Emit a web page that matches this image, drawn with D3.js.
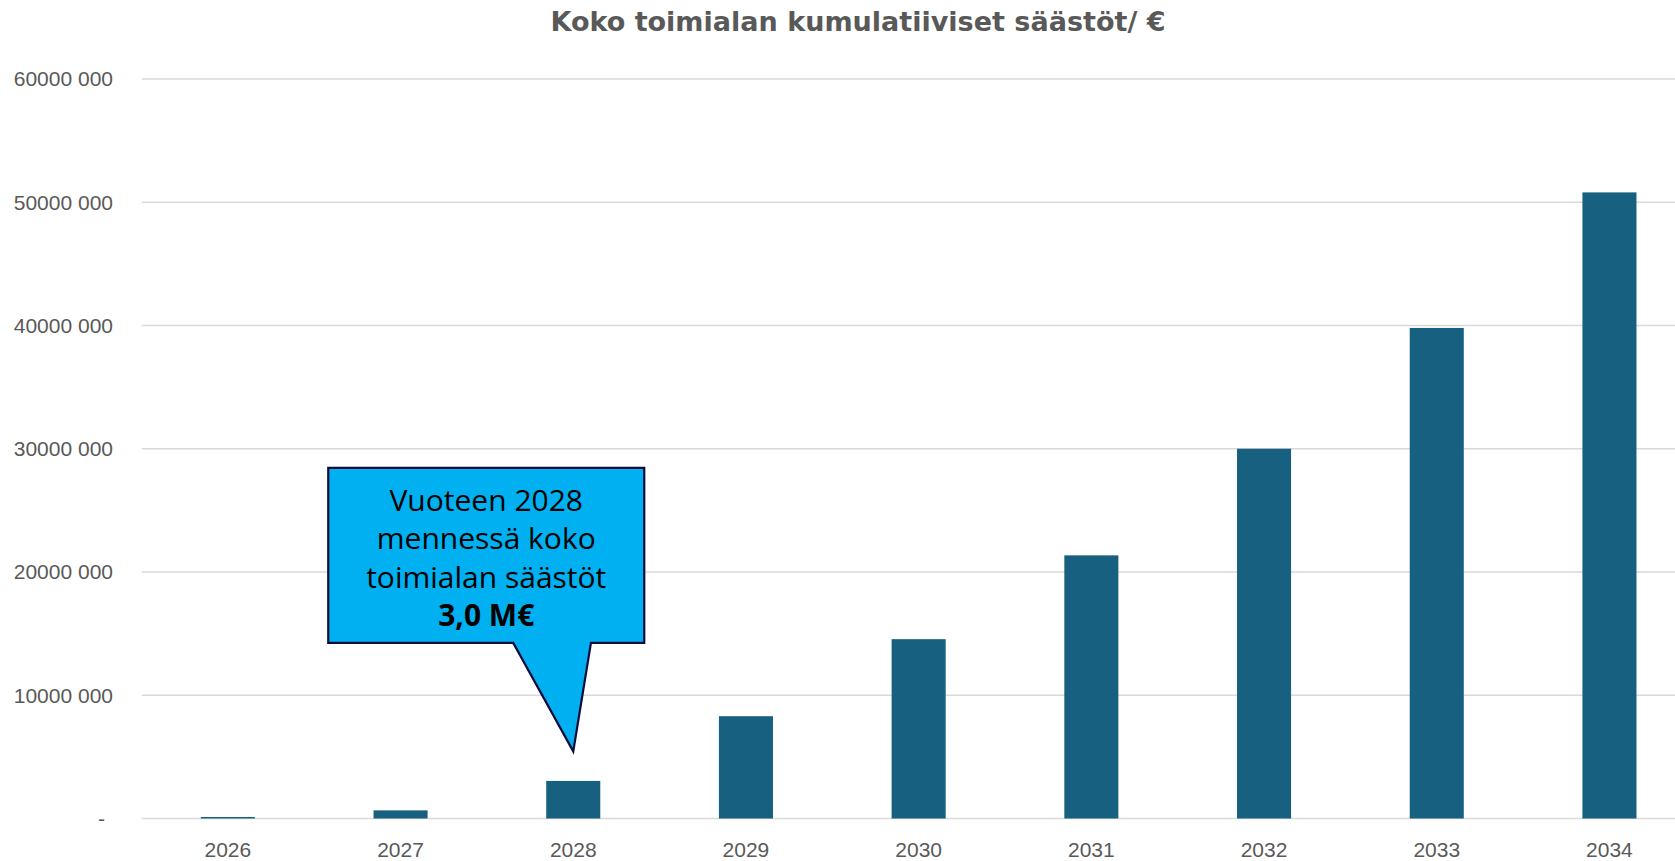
<!DOCTYPE html>
<html>
<head>
<meta charset="utf-8">
<script src="https://cdn.jsdelivr.net/npm/d3@7/dist/d3.min.js"></script>
<style>
  html, body { margin: 0; padding: 0; background: #fff; }
  svg { display: block; }
</style>
</head>
<body>
<svg id="chart" width="1675" height="861"></svg>
<script>
// data
const years = ["2026", "2027", "2028", "2029", "2030", "2031", "2032", "2033", "2034"];
const savings = [120000, 660000, 3050000, 8300000, 14550000, 21350000, 30000000, 39800000, 50800000];
const yTicks = [0, 10000000, 20000000, 30000000, 40000000, 50000000, 60000000];
const yTickLabels = ["-", "10000 000", "20000 000", "30000 000", "40000 000", "50000 000", "60000 000"];
const title = "Koko toimialan kumulatiiviset säästöt/ €";
const calloutLines = ["Vuoteen 2028", "mennessä koko", "toimialan säästöt"];
const calloutValue = "3,0 M€";
const calloutYear = "2028";
const calloutTipValue = 5450000;

const svg = d3.select("#chart");
const W = +svg.attr("width");

const x = d3.scaleBand()
    .domain(years)
    .range([141.5, 141.5 + 9 * 172.7])
    .paddingInner(0.687)
    .paddingOuter(0.3435);

const y = d3.scaleLinear()
    .domain([0, 60000000])
    .range([818.5, 79]);

// gridlines
svg.append("g")
    .selectAll("line")
    .data(yTicks)
    .join("line")
    .attr("x1", 141.7)
    .attr("x2", W)
    .attr("y1", d => y(d))
    .attr("y2", d => y(d))
    .attr("stroke", "#d9d9d9")
    .attr("stroke-width", 1.5);

// y labels
svg.append("g")
    .selectAll("text")
    .data(yTicks)
    .join("text")
    .attr("x", (d, i) => i === 0 ? 105 : 113)
    .attr("y", d => y(d))
    .attr("dy", "0.35em")
    .attr("text-anchor", "end")
    .attr("font-family", "'Liberation Sans', Arial, sans-serif")
    .attr("font-size", 21)
    .attr("fill", "#595959")
    .text((d, i) => yTickLabels[i]);

// bars
svg.append("g")
    .selectAll("rect")
    .data(years)
    .join("rect")
    .attr("x", d => x(d))
    .attr("width", x.bandwidth())
    .attr("y", (d, i) => y(savings[i]))
    .attr("height", (d, i) => y(0) - y(savings[i]))
    .attr("fill", "#17607f");

// x labels
svg.append("g")
    .selectAll("text")
    .data(years)
    .join("text")
    .attr("x", d => x(d) + x.bandwidth() / 2)
    .attr("y", 856.5)
    .attr("text-anchor", "middle")
    .attr("font-family", "'Liberation Sans', Arial, sans-serif")
    .attr("font-size", 21)
    .attr("fill", "#595959")
    .text(d => d);

// title, squeezed to the reference width
const t = svg.append("text")
    .attr("x", 858)
    .attr("y", 31)
    .attr("text-anchor", "middle")
    .attr("font-family", "'Liberation Sans Narrow', 'Arial Narrow', 'DejaVu Sans Condensed', sans-serif")
    .attr("font-weight", "bold")
    .attr("font-size", 27)
    .attr("fill", "#595959")
    .text(title);
if (Math.abs(t.node().getComputedTextLength() - 615) > 4) {
    t.attr("textLength", 615).attr("lengthAdjust", "spacingAndGlyphs");
}

// callout pointing at 2028
const tipX = x(calloutYear) + x.bandwidth() / 2;
const tipY = y(calloutTipValue);
const boxL = tipX - 245, boxR = tipX + 71, boxT = tipY - 283.4, boxB = tipY - 108.4;
const shape = [
    [boxL, boxT], [boxR, boxT], [boxR, boxB],
    [tipX + 17.7, boxB], [tipX, tipY], [tipX - 60, boxB],
    [boxL, boxB]
];
svg.append("path")
    .attr("d", d3.line()(shape) + "Z")
    .attr("fill", "#00b0f0")
    .attr("stroke", "#0c0c3c")
    .attr("stroke-width", 2.2)
    .attr("stroke-linejoin", "miter");

const boxCx = (boxL + boxR) / 2;
const ct = svg.append("text")
    .attr("text-anchor", "middle")
    .attr("font-family", "'Open Sans', 'Noto Sans', sans-serif")
    .attr("font-size", 30)
    .attr("fill", "#000");
calloutLines.forEach((line, i) => {
    ct.append("tspan").attr("x", boxCx).attr("y", boxT + 42.7 + i * 38.5).text(line);
});
ct.append("tspan")
    .attr("x", boxCx)
    .attr("y", boxT + 42.7 + 3 * 38.5)
    .attr("font-weight", "bold")
    .text(calloutValue);
</script>
</body>
</html>
